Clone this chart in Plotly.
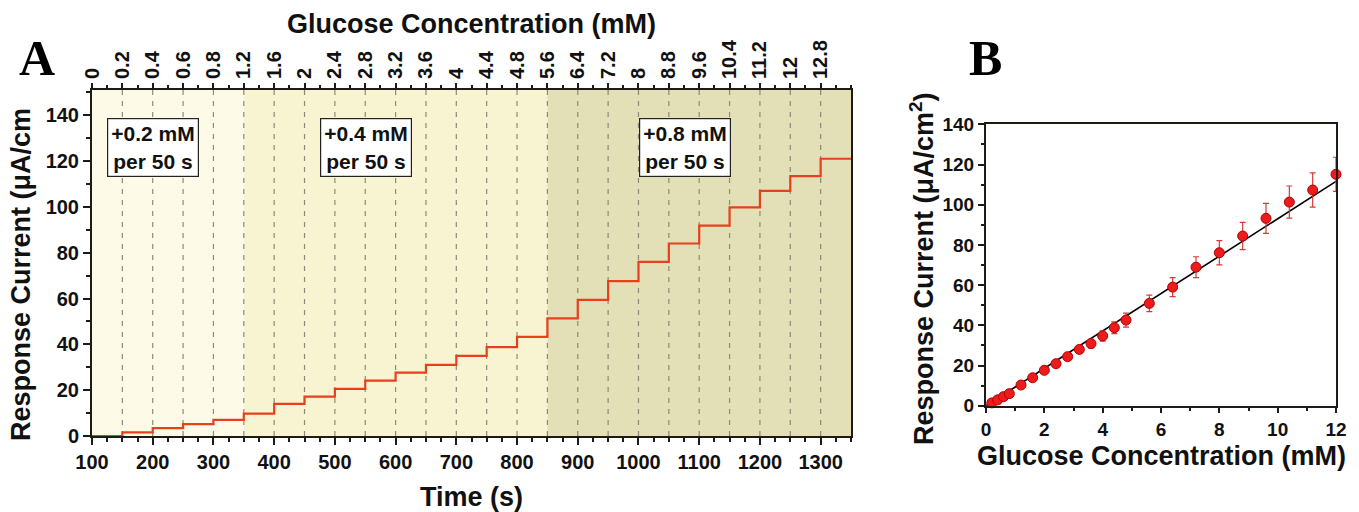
import plotly.graph_objects as go

# ---------------- data ----------------
# Panel A: chronoamperometric steps
step_times = [100, 150, 200, 250, 300, 350, 400, 450, 500, 550, 600, 650, 700,
              750, 800, 850, 900, 950, 1000, 1050, 1100, 1150, 1200, 1250, 1300]
step_levels = [0.0, 1.6, 3.4, 5.2, 7.0, 9.8, 14.0, 17.2, 20.6, 24.2, 27.7, 31.0, 35.0,
               38.8, 43.3, 51.3, 59.4, 67.6, 76.0, 84.0, 91.8, 99.8, 107.0, 113.4, 121.0]
time_end = 1350
conc_labels = ["0", "0.2", "0.4", "0.6", "0.8", "1.2", "1.6", "2", "2.4", "2.8", "3.2",
               "3.6", "4", "4.4", "4.8", "5.6", "6.4", "7.2", "8", "8.8", "9.6", "10.4",
               "11.2", "12", "12.8"]
band_edges = [100, 350, 850, 1350]
band_colors = ["#fdfbe7", "#f8f3d0", "#e3dfb7"]
band_texts = ["+0.2 mM<br>per 50 s", "+0.4 mM<br>per 50 s", "+0.8 mM<br>per 50 s"]
band_text_x = [200, 551, 1077]
band_text_y = 126

# Panel B: calibration
conc_b = [0.2, 0.4, 0.6, 0.8, 1.2, 1.6, 2.0, 2.4, 2.8, 3.2, 3.6, 4.0, 4.4, 4.8,
          5.6, 6.4, 7.2, 8.0, 8.8, 9.6, 10.4, 11.2, 12.0]
current_b = [1.4, 2.9, 4.5, 6.0, 10.3, 13.9, 17.6, 20.9, 24.4, 28.0, 30.9, 34.7, 38.8,
             42.6, 50.9, 59.0, 68.9, 76.1, 84.4, 93.2, 101.3, 107.3, 115.1]
error_b = [0.8, 0.9, 1.0, 1.1, 1.3, 1.4, 1.5, 1.6, 1.8, 1.9, 2.1, 2.6, 2.9, 3.5,
           4.1, 4.7, 5.2, 6.0, 6.8, 7.5, 8.0, 8.5, 8.5]
fit_x = [0.0, 12.0]
fit_y = [0.0, 111.6]

# ---------------- figure ----------------
W, H = 1359, 512
FONT = "Liberation Sans, Arial, sans-serif"
INK = "#111111"

def px(x):
    return x / W

def py(y):
    return 1 - y / H

fig = go.Figure()

line_x = step_times + [time_end]
line_y = step_levels + [step_levels[-1]]
fig.add_trace(go.Scatter(x=line_x, y=line_y, mode="lines", line_shape="hv",
                         line=dict(color="#e8401e", width=2.2),
                         xaxis="x", yaxis="y", showlegend=False))
# invisible trace for the top axis
fig.add_trace(go.Scatter(x=[step_times[0], time_end], y=[0, 0], mode="markers",
                         marker=dict(opacity=0), xaxis="x3", yaxis="y",
                         showlegend=False, hoverinfo="skip"))

fig.add_trace(go.Scatter(x=fit_x, y=fit_y, mode="lines",
                         line=dict(color="black", width=1.6),
                         xaxis="x2", yaxis="y2", showlegend=False))
fig.add_trace(go.Scatter(x=conc_b, y=current_b, mode="markers",
                         marker=dict(color="#ec1c1c", size=10,
                                     line=dict(color="#b40000", width=1)),
                         error_y=dict(type="data", array=error_b, color="#d83a3a",
                                      thickness=1.2, width=3),
                         xaxis="x2", yaxis="y2", showlegend=False, cliponaxis=False))

shapes = []
for i, c in enumerate(band_colors):
    shapes.append(dict(type="rect", xref="x", yref="y", x0=band_edges[i], x1=band_edges[i + 1],
                       y0=0, y1=151, fillcolor=c, line=dict(width=0), layer="below"))
for t in step_times[1:]:
    shapes.append(dict(type="line", xref="x", yref="y", x0=t, x1=t, y0=0, y1=151,
                       line=dict(color="#8c8a78", width=1.2, dash="5px,6px"), layer="below"))

annotations = []
for txt, tx in zip(band_texts, band_text_x):
    annotations.append(dict(x=tx, y=band_text_y, xref="x", yref="y", text="<b>" + txt + "</b>",
                            showarrow=False, font=dict(family=FONT, size=21, color=INK),
                            xanchor="center", yanchor="middle",
                            bgcolor="white", bordercolor="#222", borderwidth=1.2,
                            borderpad=3, align="center"))

title_font = dict(family=FONT, size=27, color=INK, weight="bold")
serif_font = dict(family="Liberation Serif, Times New Roman, serif", size=50,
                  color="black", weight="bold")
labels = [
    (471, 497, "Time (s)", title_font, 0),
    (471, 24, "Glucose Concentration (mM)", title_font, 0),
    (21, 275, "Response Current (μA/cm", title_font, -90),
    (1161, 456, "Glucose Concentration (mM)", title_font, 0),
    (922, 268, "Response Current (μA/cm<sup>2</sup>)", title_font, -90),
    (37, 58, "A", serif_font, 0),
    (985, 58, "B", serif_font, 0),
]
for lx, ly, txt, f, ang in labels:
    annotations.append(dict(x=px(lx), y=py(ly), xref="paper", yref="paper", text=txt,
                            showarrow=False, font=f, textangle=ang,
                            xanchor="center", yanchor="middle"))

tickfont = dict(family=FONT, size=20, color=INK, weight="bold")
tickfont_b = dict(family=FONT, size=19, color=INK, weight="bold")
axis_common = dict(showgrid=False, zeroline=False, showline=True, linecolor="#1c1c14",
                   linewidth=2, ticks="outside", tickcolor="#1c1c14", tickwidth=2,
                   automargin=False)

dom_ax = [px(92), px(851)]
dom_ay = [py(436), py(90)]
dom_bx = [px(986), px(1336)]
dom_by = [py(405.7), py(124.3)]

fig.update_layout(
    width=W, height=H, margin=dict(l=0, r=0, t=0, b=0, autoexpand=False),
    paper_bgcolor="white", plot_bgcolor="rgba(0,0,0,0)",
    shapes=shapes, annotations=annotations,
    xaxis=dict(domain=dom_ax, range=[100, 1350], anchor="y", tickmode="linear",
               tick0=100, dtick=100, ticklen=7, mirror=True, tickfont=tickfont,
               minor=dict(dtick=25, ticklen=4, ticks="outside", tickcolor="#1c1c14", tickwidth=1.5),
               **axis_common),
    xaxis3=dict(domain=dom_ax, range=[100, 1350], anchor="y", overlaying="x", side="top",
                tickmode="array", tickvals=step_times, ticktext=conc_labels, tickangle=-90,
                ticklen=5, matches="x", tickfont=tickfont,
                minor=dict(dtick=25, tick0=100, ticklen=3, ticks="outside", tickcolor="#1c1c14", tickwidth=1.5),
                **axis_common),
    yaxis=dict(domain=dom_ay, range=[0, 151], anchor="x", tickmode="linear", tick0=0,
               dtick=20, ticklen=7, mirror=True, tickfont=tickfont,
               minor=dict(dtick=10, ticklen=4, ticks="outside", tickcolor="#1c1c14", tickwidth=1.5),
               **axis_common),
    xaxis2=dict(domain=dom_bx, range=[0, 12], anchor="y2", tickmode="linear", tick0=0,
                dtick=2, ticklen=5, mirror=True, tickfont=tickfont_b,
                minor=dict(dtick=1, ticklen=3, ticks="outside", tickcolor="#1c1c14", tickwidth=1.5),
                **axis_common),
    yaxis2=dict(domain=dom_by, range=[0, 140], anchor="x2", tickmode="linear", tick0=0,
                dtick=20, ticklen=6, mirror=True, tickfont=tickfont_b,
                minor=dict(dtick=10, ticklen=3, ticks="outside", tickcolor="#1c1c14", tickwidth=1.5),
                **axis_common),
)

fig.write_html("out.html")
